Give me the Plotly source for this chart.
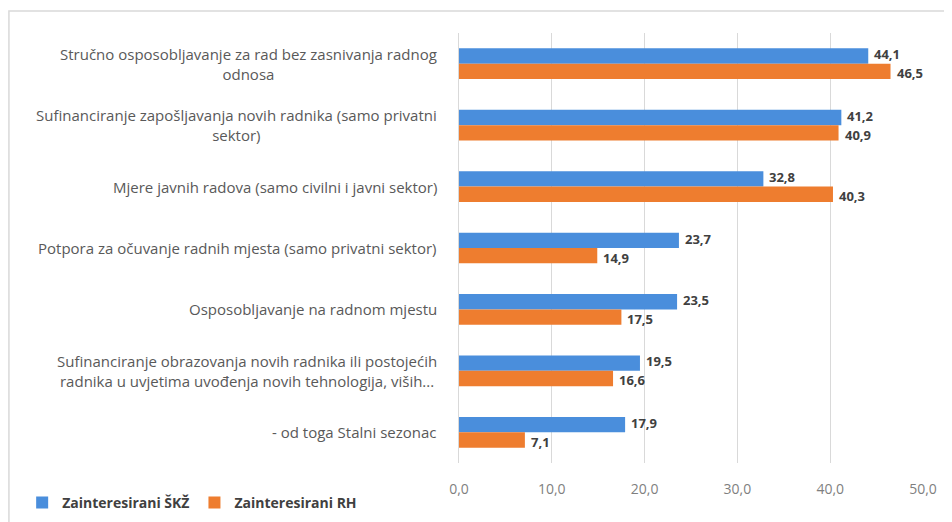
import plotly.graph_objects as go

categories = [
    "Stručno osposobljavanje za rad bez zasnivanja radnog<br>odnosa",
    "Sufinanciranje zapošljavanja novih radnika (samo privatni<br>sektor)",
    "Mjere javnih radova (samo civilni i javni sektor)",
    "Potpora za očuvanje radnih mjesta (samo privatni sektor)",
    "Osposobljavanje na radnom mjestu",
    "Sufinanciranje obrazovanja novih radnika ili postojećih<br>radnika u uvjetima uvođenja novih tehnologija, viših...",
    "- od toga Stalni sezonac",
]
skz_values = [44.1, 41.2, 32.8, 23.7, 23.5, 19.5, 17.9]
rh_values = [46.5, 40.9, 40.3, 14.9, 17.5, 16.6, 7.1]
series_names = ["Zainteresirani ŠKŽ", "Zainteresirani RH"]
x_ticks = [0, 10, 20, 30, 40, 50]

ids = list(range(len(categories)))
font_family = "Open Sans, Liberation Sans, sans-serif"

fig = go.Figure()
for name, vals, col in [(series_names[0], skz_values, "#4A8EDC"),
                        (series_names[1], rh_values, "#EE7D2F")]:
    fig.add_trace(go.Bar(
        y=ids, x=vals, name=name, orientation="h",
        marker=dict(color=col, line=dict(width=0)),
        cliponaxis=False,
    ))

# value labels at bar ends (comma decimal)
for vals, shift in [(skz_values, 9.5), (rh_values, -9.5)]:
    for i, v in enumerate(vals):
        fig.add_annotation(
            x=v, xref="x", xanchor="left", xshift=5,
            y=i, yref="y", yanchor="middle", yshift=shift,
            text="<b>" + f"{v:.1f}".replace(".", ",") + "</b>",
            showarrow=False, borderpad=0,
            font=dict(family=font_family, size=13, color="#404040"),
        )

for i, c in enumerate(categories):
    fig.add_annotation(
        x=0, xref="paper", xanchor="right", xshift=-20,
        y=i, yref="y", yanchor="middle",
        text=c, showarrow=False, align="center",
        font=dict(family=font_family, size=15, color="#595959"),
    )

fig.add_shape(type="rect", xref="paper", yref="paper",
              x0=-0.97, x1=1.2, y0=-0.3, y1=1.051,
              line=dict(color="#D9D9D9", width=1.5), layer="below")

fig.update_layout(
    width=944, height=514,
    margin=dict(l=451, r=29, t=25, b=59, autoexpand=False),
    paper_bgcolor="white", plot_bgcolor="white",
    barmode="group", bargap=0.5, bargroupgap=0,
    separators=", ",
    font=dict(family=font_family, size=14, color="#595959"),
    xaxis=dict(range=[0, 50], tickvals=x_ticks, tickformat=".1f",
               showgrid=True, gridcolor="#D9D9D9", gridwidth=1,
               zeroline=False, showline=False,
               ticklabelstandoff=16,
               tickfont=dict(family=font_family, size=14, color="#7F7F7F")),
    yaxis=dict(autorange="reversed", tickvals=ids, showticklabels=False,
               showgrid=False, zeroline=False, range=[6.5, -0.5],
               showline=True, linecolor="#D9D9D9", linewidth=1),
    legend=dict(orientation="h", xref="container", yref="container",
                x=0.015, xanchor="left", y=0.037, yanchor="middle",
                font=dict(family=font_family, size=14, color="#404040", weight="bold"),
                itemwidth=30, traceorder="normal"),
    showlegend=True,
)
fig.write_html("out.html")
